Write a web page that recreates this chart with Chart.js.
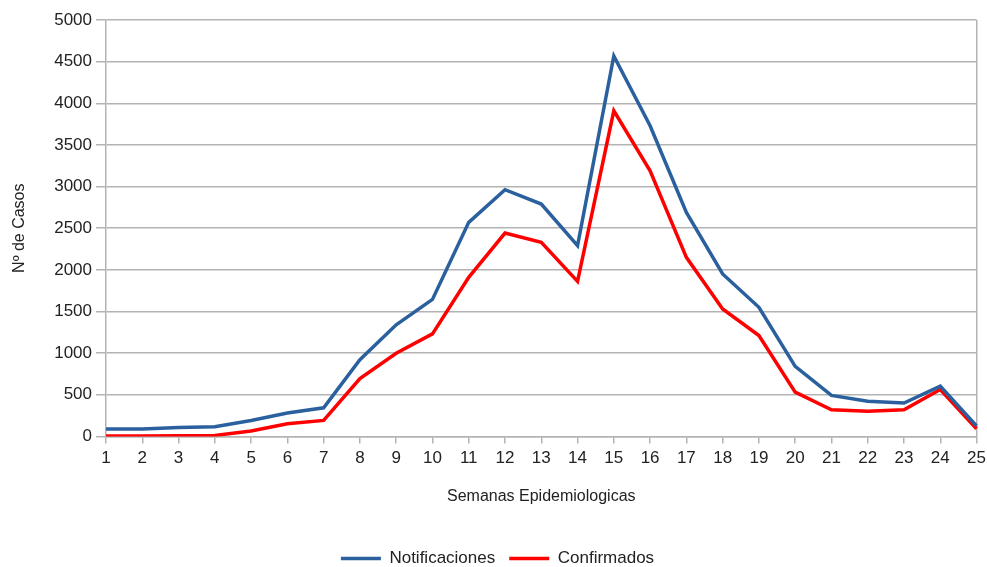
<!DOCTYPE html>
<html>
<head>
<meta charset="utf-8">
<script src="https://cdn.jsdelivr.net/npm/chart.js@4"></script>
<style>
  html, body { margin: 0; padding: 0; background: #fff; overflow: hidden; }
  #wrap { width: 991px; height: 577px; }
</style>
</head>
<body>
<div id="wrap"><canvas id="chart"></canvas></div>
<script>
const weeks = ['1','2','3','4','5','6','7','8','9','10','11','12','13','14','15','16','17','18','19','20','21','22','23','24','25'];
const notificaciones = [88, 90, 108, 116, 192, 280, 344, 920, 1340, 1645, 2570, 2962, 2790, 2290, 4568, 3730, 2690, 1950, 1550, 840, 492, 423, 400, 603, 125];
const confirmados = [5, 5, 8, 12, 64, 152, 192, 695, 999, 1231, 1910, 2442, 2330, 1862, 3910, 3190, 2150, 1530, 1211, 531, 320, 303, 320, 563, 92];
const yTicks = [0, 500, 1000, 1500, 2000, 2500, 3000, 3500, 4000, 4500, 5000];

const gridGray = '#b3b3b3';
const family = '"Liberation Sans", Arial, sans-serif';
const tickFont = { family, size: 17 };
const titleFont = { family, size: 16 };

new Chart(document.getElementById('chart'), {
  type: 'line',
  data: {
    labels: weeks,
    datasets: [
      { label: 'Notificaciones', data: notificaciones, borderColor: '#2b609e', backgroundColor: '#2b609e', borderWidth: 3.5, pointRadius: 0, tension: 0 },
      { label: 'Confirmados', data: confirmados, borderColor: '#ff0000', backgroundColor: '#ff0000', borderWidth: 3.5, pointRadius: 0, tension: 0 },
    ],
  },
  options: {
    responsive: true,
    maintainAspectRatio: false,
    animation: false,
    layout: { padding: { left: 10, right: 6, top: 20, bottom: 0 } },
    plugins: {
      legend: {
        position: 'bottom',
        labels: {
          usePointStyle: true,
          pointStyle: 'line',
          pointStyleWidth: 40,
          boxWidth: 40,
          boxHeight: 8,
          padding: 14,
          color: '#222',
          font: tickFont,
        },
      },
      tooltip: { enabled: false },
    },
    scales: {
      x: {
        offset: false,
        grid: {
          color: (ctx) => (ctx.index === weeks.length - 1 ? gridGray : 'transparent'),
          tickColor: gridGray,
          tickLength: 7,
          lineWidth: 1.5,
        },
        border: { color: gridGray, width: 1.5 },
        ticks: { color: '#222', font: tickFont, padding: 5, maxRotation: 0, autoSkip: false },
        title: {
          display: true,
          text: 'Semanas Epidemiologicas',
          color: '#222',
          font: titleFont,
          padding: { top: 13, bottom: 30 },
        },
      },
      y: {
        min: 0,
        max: 5000,
        afterBuildTicks: (axis) => { axis.ticks = yTicks.map((v) => ({ value: v })); },
        grid: { color: gridGray, tickColor: gridGray, tickLength: 10, lineWidth: 1.5 },
        border: { color: gridGray, width: 1.5 },
        ticks: { color: '#222', font: tickFont, padding: 4, callback: (v) => String(v) },
        title: {
          display: true,
          text: 'Nº de Casos',
          color: '#222',
          font: titleFont,
          padding: { top: 0, bottom: 21 },
        },
      },
    },
  },
});
</script>
</body>
</html>
